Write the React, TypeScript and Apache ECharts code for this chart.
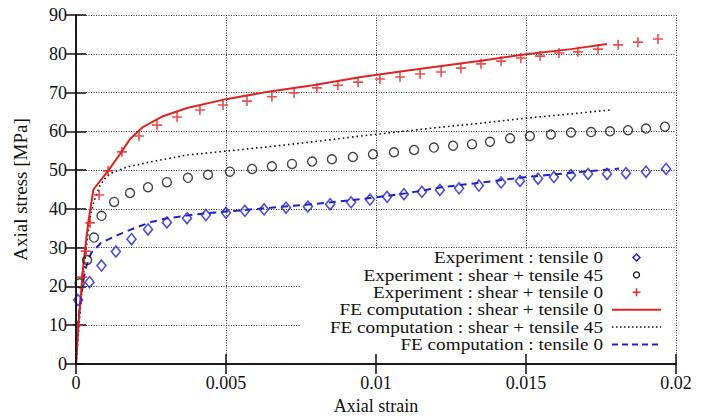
import React, { useEffect, useRef } from "react";
import * as echarts from "echarts";

// ---- data ----
const xTickLabels = ["0", "0.005", "0.01", "0.015", "0.02"];
const xAxisName = "Axial strain";
const yAxisName = "Axial stress [MPa]";

const legendLabels = [
  "Experiment : tensile 0",
  "Experiment : shear + tensile 45",
  "Experiment : shear + tensile 0",
  "FE computation : shear + tensile 0",
  "FE computation : shear + tensile 45",
  "FE computation : tensile 0",
];

const expTensile0: number[][] = [
  [0.00007, 16.5], [0.00045, 21.1], [0.00085, 25.4], [0.00133, 29.0], [0.00185, 32.2],
  [0.0024, 34.7], [0.00303, 36.5], [0.0037, 37.6], [0.00433, 38.4], [0.005, 39.0],
  [0.00563, 39.5], [0.00627, 39.9], [0.007, 40.3], [0.00773, 40.6], [0.00847, 41.2],
  [0.00917, 41.7], [0.0098, 42.4], [0.01037, 43.1], [0.01093, 43.8], [0.01153, 44.4],
  [0.01213, 44.9], [0.01277, 45.3], [0.01343, 46.0], [0.01417, 46.8], [0.0148, 47.2],
  [0.0154, 47.8], [0.01593, 48.2], [0.0165, 48.7], [0.01707, 49.0], [0.0177, 49.0],
  [0.01833, 49.2], [0.019, 49.6], [0.01967, 50.3],
];

const expShear45: number[][] = [
  [0.00012, 20.8], [0.00037, 26.8], [0.0006, 32.6], [0.00085, 38.2], [0.00127, 41.8],
  [0.0018, 44.1], [0.0024, 45.6], [0.00303, 46.9], [0.00373, 48.0], [0.0044, 48.8],
  [0.00513, 49.6], [0.00587, 50.3], [0.00653, 51.0], [0.0072, 51.6], [0.00787, 52.2],
  [0.00853, 52.8], [0.00923, 53.4], [0.0099, 54.1], [0.0106, 54.6], [0.01127, 55.2],
  [0.01193, 55.8], [0.01257, 56.3], [0.0132, 56.7], [0.0138, 57.3], [0.01447, 58.2],
  [0.01513, 58.8], [0.01583, 59.2], [0.0165, 59.7], [0.01717, 59.8], [0.0178, 60.0],
  [0.0184, 60.3], [0.019, 60.7], [0.01963, 61.2],
];

const expShear0: number[][] = [
  [0.00007, 10.0], [0.0002, 22.4], [0.00033, 29.1], [0.00047, 36.4], [0.00077, 43.6],
  [0.00107, 49.8], [0.00153, 54.7], [0.0021, 58.8], [0.0027, 61.6], [0.00337, 63.7],
  [0.00413, 65.5], [0.0049, 66.8], [0.0057, 67.8], [0.00653, 68.9], [0.00727, 69.9],
  [0.00803, 71.2], [0.00873, 71.9], [0.0094, 72.7], [0.01013, 73.5], [0.0108, 74.0],
  [0.01147, 74.8], [0.01217, 75.3], [0.01283, 76.3], [0.0135, 77.4], [0.01417, 78.1],
  [0.01483, 78.9], [0.01547, 79.4], [0.0161, 80.2], [0.01673, 80.5], [0.0174, 81.2],
  [0.01807, 82.3], [0.01873, 83.0], [0.0194, 83.8],
];

const feShear0: number[][] = [
  [0, 0], [0.0001, 12], [0.00025, 26], [0.0004, 36], [0.00058, 45.0], [0.00107, 49.8],
  [0.00147, 54.2], [0.0018, 58.0], [0.00223, 61.1], [0.0029, 63.9], [0.0037, 66.0],
  [0.005, 68.3], [0.0064, 70.2], [0.0079, 71.9], [0.0095, 74.0], [0.011, 75.6],
  [0.0125, 77.2], [0.0135, 78.2], [0.015, 79.9], [0.0165, 81.2], [0.0177, 82.5],
];

const feShear45: number[][] = [
  [0, 0], [0.0001, 10], [0.0002, 19], [0.0003, 27], [0.00045, 37], [0.0006, 42],
  [0.0008, 46], [0.001, 48.2], [0.00123, 49.4], [0.0017, 50.8], [0.00247, 52.1],
  [0.0037, 53.9], [0.005, 54.9], [0.0064, 56.0], [0.0079, 57.3], [0.0095, 58.8],
  [0.011, 60.1], [0.0122, 61.1], [0.0135, 62.1], [0.015, 63.4], [0.0165, 64.5],
  [0.0178, 65.5],
];

const feTensile0: number[][] = [
  [0, 0], [0.00005, 10], [0.00017, 17.3], [0.0003, 24.2], [0.0005, 28.6],
  [0.00083, 31.2], [0.0014, 33.3], [0.002, 35.2], [0.0025, 36.6], [0.003, 37.5],
  [0.004, 38.6], [0.005, 39.3], [0.0065, 40.3], [0.008, 41.3], [0.0095, 42.5],
  [0.011, 44.0], [0.0122, 45.6], [0.0135, 46.8], [0.015, 48.2], [0.0165, 49.3],
  [0.0181, 50.4],
];

const RED = "#e02424";
const BLUE = "#2222cc";
const BLACK = "#111111";
const FONT = '"Liberation Serif", "Times New Roman", serif';

const PLUS = "path://M5,0L5,10M0,5L10,5";

export default function App() {
  const ref = useRef<HTMLDivElement>(null);

  useEffect(() => {
    if (!ref.current) return;
    const chart = echarts.init(ref.current, undefined, { renderer: "svg" });

    const gridLeft = 76;
    const gridTop = 15;
    const gridRight = 42;
    const gridBottom = 52;

    const splitStyle = { show: true, lineStyle: { color: "#333", width: 1, type: [1, 1.5] as any } };
    const tickInside = { show: true, inside: true, length: 10, lineStyle: { color: BLACK, width: 1.5 } };
    const axisLineStyle = { show: true, lineStyle: { color: BLACK, width: 1.5 } };

    // legend drawing
    const textRight = 603;
    const row0 = 257.5;
    const rowStep = 17.4;
    const symX = 636.5;
    const lineX1 = 612;
    const lineX2 = 661;
    const legendGraphics: any[] = [
      {
        type: "rect",
        shape: { x: 301, y: 249.5, width: 375, height: 113.5 },
        style: { fill: "#ffffff" },
        z: 1,
      },
    ];
    legendLabels.forEach((label, i) => {
      const y = row0 + i * rowStep;
      legendGraphics.push({
        type: "text",
        x: textRight,
        y,
        scaleX: 1.13,
        style: {
          text: label,
          textAlign: "right",
          textVerticalAlign: "middle",
          font: `17px ${FONT}`,
          fill: BLACK,
        },
        z: 3,
      });
      if (i === 0) {
        legendGraphics.push({
          type: "polygon",
          shape: { points: [[symX, y - 3.5], [symX + 3.5, y], [symX, y + 3.5], [symX - 3.5, y]] },
          style: { fill: "none", stroke: BLUE, lineWidth: 1.5 },
          z: 3,
        });
      } else if (i === 1) {
        legendGraphics.push({
          type: "circle",
          shape: { cx: symX, cy: y, r: 3 },
          style: { fill: "none", stroke: BLACK, lineWidth: 1.3 },
          z: 3,
        });
      } else if (i === 2) {
        legendGraphics.push(
          { type: "line", shape: { x1: symX - 4, y1: y, x2: symX + 4, y2: y }, style: { stroke: RED, lineWidth: 1.5 }, z: 3 },
          { type: "line", shape: { x1: symX, y1: y - 4, x2: symX, y2: y + 4 }, style: { stroke: RED, lineWidth: 1.5 }, z: 3 }
        );
      } else if (i === 3) {
        legendGraphics.push({ type: "line", shape: { x1: lineX1, y1: y, x2: lineX2, y2: y }, style: { stroke: RED, lineWidth: 2 }, z: 3 });
      } else if (i === 4) {
        legendGraphics.push({ type: "line", shape: { x1: lineX1, y1: y, x2: lineX2, y2: y }, style: { stroke: BLACK, lineWidth: 1.5, lineDash: [1.5, 2.5] }, z: 3 });
      } else {
        legendGraphics.push({ type: "line", shape: { x1: lineX1, y1: y, x2: lineX2, y2: y }, style: { stroke: BLUE, lineWidth: 2, lineDash: [6, 4] }, z: 3 });
      }
    });

    const labelFmt = (v: number) => xTickLabels[Math.round(v / 0.005)] ?? "";

    chart.setOption({
      animation: false,
      backgroundColor: "#ffffff",
      textStyle: { fontFamily: FONT },
      grid: {
        left: gridLeft,
        top: gridTop,
        right: gridRight,
        bottom: gridBottom,
        containLabel: false,
        outerBoundsMode: "none",
      },
      xAxis: [
        {
          type: "value",
          position: "bottom",
          min: 0,
          max: 0.02,
          interval: 0.005,
          z: 10,
          name: xAxisName,
          nameLocation: "middle",
          nameGap: 31,
          nameTextStyle: { fontFamily: FONT, fontSize: 18, color: BLACK },
          axisLine: axisLineStyle,
          axisTick: tickInside,
          splitLine: { show: false },
          axisLabel: { formatter: labelFmt, fontFamily: FONT, fontSize: 18, color: BLACK, margin: 10 },
        },
        {
          type: "value",
          position: "top",
          min: 0,
          max: 0.02,
          interval: 0.005,
          z: 0,
          axisLine: axisLineStyle,
          axisTick: tickInside,
          splitLine: splitStyle,
          axisLabel: { show: false },
        },
      ],
      yAxis: [
        {
          type: "value",
          position: "left",
          min: 0,
          max: 90,
          interval: 10,
          z: 0,
          name: yAxisName,
          nameLocation: "middle",
          nameGap: 46,
          nameRotate: 90,
          nameTextStyle: { fontFamily: FONT, fontSize: 19, color: BLACK },
          axisLine: axisLineStyle,
          axisTick: tickInside,
          splitLine: splitStyle,
          axisLabel: { fontFamily: FONT, fontSize: 18, color: BLACK, margin: 9 },
        },
        {
          type: "value",
          position: "right",
          min: 0,
          max: 90,
          interval: 10,
          z: 10,
          axisLine: axisLineStyle,
          axisTick: tickInside,
          splitLine: { show: false },
          axisLabel: { show: false },
        },
      ],
      graphic: { elements: legendGraphics },
      series: [
        {
          name: legendLabels[5],
          type: "line",
          data: feTensile0,
          showSymbol: false,
          symbol: "none",
          lineStyle: { color: BLUE, width: 2, type: [7, 5] as any },
          z: 4,
        },
        {
          name: legendLabels[4],
          type: "line",
          data: feShear45,
          showSymbol: false,
          symbol: "none",
          lineStyle: { color: BLACK, width: 1.6, type: [1.6, 3] as any },
          z: 4,
        },
        {
          name: legendLabels[3],
          type: "line",
          data: feShear0,
          showSymbol: false,
          symbol: "none",
          lineStyle: { color: RED, width: 2 },
          z: 4,
        },
        {
          name: legendLabels[0],
          type: "scatter",
          data: expTensile0,
          symbol: "diamond",
          symbolSize: [9, 11],
          itemStyle: { color: "transparent", borderColor: BLUE, borderWidth: 1.6 },
          z: 5,
        },
        {
          name: legendLabels[1],
          type: "scatter",
          data: expShear45,
          symbol: "circle",
          symbolSize: 9,
          itemStyle: { color: "transparent", borderColor: BLACK, borderWidth: 1.4 },
          z: 5,
        },
        {
          name: legendLabels[2],
          type: "scatter",
          data: expShear0,
          symbol: PLUS,
          symbolSize: 10,
          itemStyle: { color: "transparent", borderColor: RED, borderWidth: 1.6 },
          z: 5,
        },
      ],
    });

    return () => chart.dispose();
  }, []);

  return (
    <div
      ref={ref}
      style={{ position: "fixed", left: 0, top: 0, width: 718, height: 416, background: "#fff" }}
    />
  );
}
